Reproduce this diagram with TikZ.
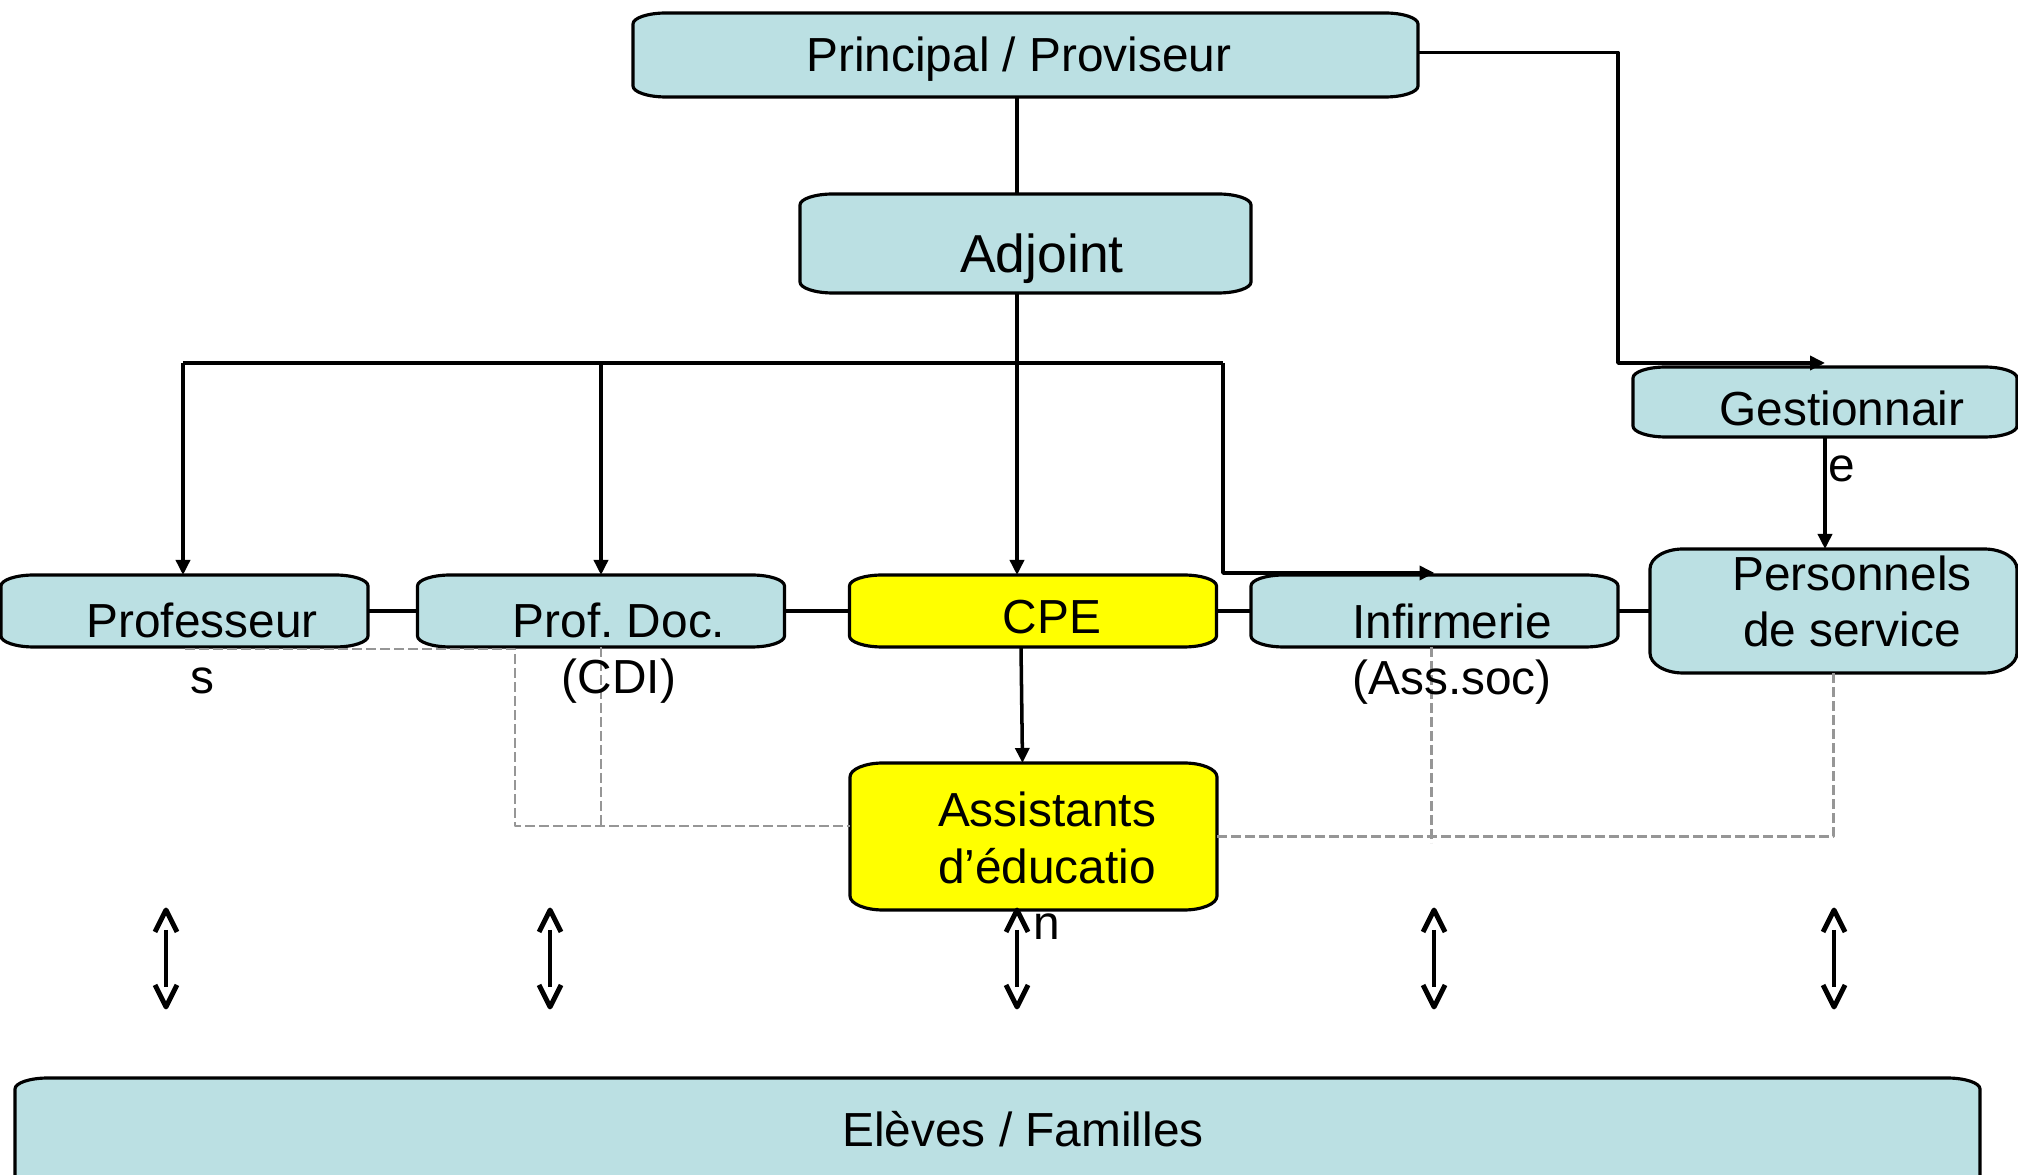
\documentclass[tikz,border=0pt]{standalone}
\usepackage{fontspec}
\setmainfont{Liberation Sans}
\usepackage{tikz}
\usetikzlibrary{arrows.meta}
\frenchspacing
\definecolor{boxblue}{RGB}{187,224,227}
\definecolor{boxyellow}{RGB}{255,255,0}
\definecolor{dashgray}{RGB}{150,150,150}
\newcommand\boxshape[3][1.1mm]{%
\filldraw[fill=#3,line width=0.9pt]([xshift=3.3mm]#2.north west)--([xshift=-3.3mm]#2.north east)
 arc[start angle=90,end angle=0,x radius=3.3mm,y radius=#1]--([yshift=#1]#2.south east)
 arc[start angle=0,end angle=-90,x radius=3.3mm,y radius=#1]--([xshift=3.3mm]#2.south west)
 arc[start angle=270,end angle=180,x radius=3.3mm,y radius=#1]--([yshift=-#1]#2.north west)
 arc[start angle=180,end angle=90,x radius=3.3mm,y radius=#1]--cycle;}
\tikzset{vhead/.pic={\draw[line width=1.4pt](-1.1mm,-2.2mm)--(0,0)--(1.1mm,-2.2mm);}}

\begin{document}
\begin{tikzpicture}[x=0.1mm,y=-0.1mm,join=round,
 unit/.style={inner sep=0pt,outer sep=0pt,minimum height=7.2mm,minimum width=36.7mm},
 txt/.style={anchor=base,align=center,inner sep=0pt,font=\fontsize{13.6}{16.2}\selectfont},
 link/.style={line width=1pt},
 down/.style={link,-{Triangle[length=1.5mm,width=1.4mm]}},
 sib/.style={dashgray,line width=0.7pt,dash pattern=on 1mm off 0.4mm},
 updown/.style={line width=1pt}]
\useasboundingbox (0,0) rectangle (2018,1175);
\node[unit,minimum width=78.5mm,minimum height=8.4mm] (prin) at (1025.5,55) {};
\node[unit,minimum width=45.1mm,minimum height=9.9mm] (adj) at (1025.5,243.5) {};
\node[unit,minimum width=38.4mm,minimum height=7mm] (gest) at (1825,402) {};
\node[unit,minimum height=12.4mm] (pers) at (1833.5,611) {};
\node[unit] (prof) at (184.5,611) {};
\node[unit] (doc) at (601,611) {};
\node[unit] (cpe) at (1033,611) {};
\node[unit] (inf) at (1434.5,611) {};
\node[unit,minimum height=14.7mm] (asst) at (1033.5,836.5) {};
\node[unit,minimum width=196.5mm,minimum height=12.2mm] (elev) at (997.5,1139) {};
\foreach \n in {prin,adj,gest,prof,doc,inf,elev} \boxshape{\n}{boxblue};
\boxshape[2mm]{pers}{boxblue}
\boxshape{cpe}{boxyellow}
\boxshape[1.4mm]{asst}{boxyellow}
\coordinate (bus) at (1017,363);
\coordinate (busL) at (183,363);
\coordinate (busR) at (1223,363);
\coordinate (turn) at (1618,363);
\coordinate (dl) at (515,826);
\draw[link] (prin.south -| bus)--(adj.north -| bus);
\draw[link] (adj.south -| bus)--(bus);
\draw[link] (busL)--(busR);
\draw[down] (busL)--(busL |- prof.north);
\draw[down] (doc.north |- busL)--(doc.north);
\draw[down] (bus)--(bus |- cpe.north);
\draw[down] (busR) |- ([yshift=0.2mm]inf.north);
\draw[down] ([yshift=0.25mm]prin.east) -| (turn)--(turn -| gest.north);
\draw[down] (gest.south)--(gest.south |- pers.north);
\draw[link] (prof)--(doc);
\draw[link] (doc)--(cpe);
\draw[link] (cpe)--(inf);
\draw[link] (inf)--(pers);
\draw[down] ([xshift=-1.2mm]cpe.south)--([xshift=-1.1mm]asst.north);
\draw[sib] ([yshift=-0.2mm]prof.south) -| (dl)--(dl -| asst.west);
\draw[sib] (doc.south)--(doc.south |- dl);
\draw[sib] (asst.east) -| (pers.south);
\draw[sib] ([xshift=-0.3mm]inf.south)--++(0,196);
\foreach \x in {166,550,1017,1434,1834}{
 \coordinate (hi) at (\x,910);
 \coordinate (lo) at (\x,1007);
 \draw[updown] ([yshift=-2mm]hi)--([yshift=2mm]lo);
 \pic at (hi) {vhead};
 \pic[rotate=180] at (lo) {vhead};
}
\node[txt] (prin-t) at (1019,72) {Principal / Proviseur};
\node[txt,font=\fontsize{15.2}{18}\selectfont] (adj-t) at (1042,273) {Adjoint};
\node[txt] (gest-t) at (1842,482) {Gestionnair\\e};
\node[txt] (pers-t) at (1852,647) {Personnels\\de service};
\node[txt] (prof-t) at (202,694) {Professeur\\s};
\node[txt] (doc-t) at (619,694) {Prof. Doc.\\(CDI)};
\node[txt] (cpe-t) at (1052,634) {CPE};
\node[txt] (inf-t) at (1452,695) {Infirmerie\\(Ass.soc)};
\node[txt] (asst-t) at (1047,940) {Assistants\\d’éducatio\\n};
\node[txt] (elev-t) at (1023,1147) {Elèves / Familles};
\end{tikzpicture}
\end{document}
